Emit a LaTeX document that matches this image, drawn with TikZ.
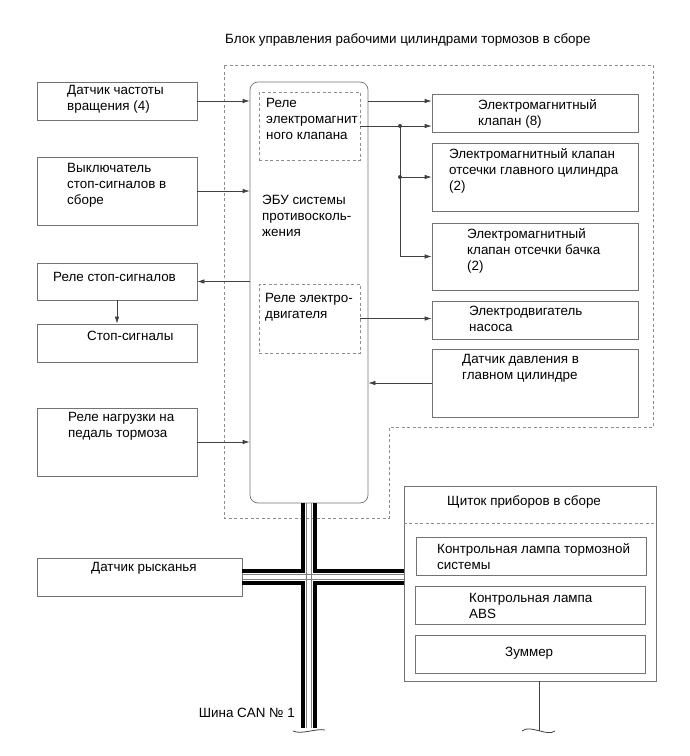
\documentclass[tikz,border=0pt]{standalone}
\usepackage{fontspec}
\setmainfont{Liberation Sans}
\usepackage{xcolor}
\usetikzlibrary{arrows.meta}
\definecolor{boxgray}{gray}{0.45}
\definecolor{linegray}{gray}{0.25}
\definecolor{dashgray}{gray}{0.55}

\begin{document}
\begin{tikzpicture}[x=1pt, y=-1pt,
  box/.style={draw=boxgray, line width=0.7pt, inner sep=0pt},
  dbox/.style={draw=dashgray, line width=0.7pt, dash pattern=on 3pt off 2.5pt, inner sep=0pt},
  lbl/.style={anchor=north west, inner sep=0pt, align=left, font=\fontsize{13.4}{16}\selectfont},
  arrow/.style={draw=linegray, line width=0.7pt, -{Latex[length=7pt,width=4.5pt]}},
  link/.style={draw=linegray, line width=0.7pt},
  busthick/.style={draw=black, line width=3.2pt, line join=miter},
  busthin/.style={draw=gray, line width=0.8pt},
  wave/.style={draw=linegray, line width=0.8pt}
]
\useasboundingbox (0,0) rectangle (690,756);

% block outline and title
\draw[dbox] (224,65) -- (653,65) -- (653,427) -- (389,427) -- (389,518) -- (224,518) -- cycle;
\node[lbl] (title) at (225,33) {Блок управления рабочими цилиндрами тормозов в сборе};

% left column
\node[box, minimum width=160pt, minimum height=38pt] (speed) at (117,101) {};
\node[lbl] (speedtxt) at (67,85) {Датчик частоты\\вращения (4)};
\node[box, minimum width=160pt, minimum height=68pt] (stopsw) at (117,191) {};
\node[lbl] (stopswtxt) at (67,163) {Выключатель\\стоп-сигналов в\\сборе};
\node[box, minimum width=160pt, minimum height=37pt] (stoprelay) at (117,281.5) {};
\node[lbl] (stoprelaytxt) at (53,272) {Реле стоп-сигналов};
\node[box, minimum width=160pt, minimum height=38pt] (stoplamp) at (117,343) {};
\node[lbl] (stoplamptxt) at (87,331) {Стоп-сигналы};
\node[box, minimum width=160pt, minimum height=68pt] (pedal) at (117,442) {};
\node[lbl] (pedaltxt) at (68,412) {Реле нагрузки на\\педаль тормоза};
\node[box, minimum width=205pt, minimum height=38pt] (yaw) at (139.5,577) {};
\node[lbl] (yawtxt) at (91,562) {Датчик рысканья};

% ECU
\node[box, rounded corners=8pt, minimum width=118pt, minimum height=421pt] (ecu) at (309,292.5) {};
\node[lbl] (ecutxt) at (262,195) {ЭБУ системы\\противосколь-\\жения};
\node[dbox, minimum width=101pt, minimum height=68pt] (solrelay) at (309.5,126) {};
\node[lbl] (solrelaytxt) at (266,98) {Реле\\электромагнит\\ного клапана};
\node[dbox, minimum width=101pt, minimum height=69pt] (motrelay) at (309.5,318.5) {};
\node[lbl] (motrelaytxt) at (265,293) {Реле электро-\\двигателя};

% right column
\node[box, minimum width=206pt, minimum height=38pt] (valve) at (535,113) {};
\node[lbl] (valvetxt) at (478,99) {Электромагнитный\\клапан (8)};
\node[box, minimum width=206pt, minimum height=68pt] (mcvalve) at (535,177) {};
\node[lbl] (mcvalvetxt) at (449,148) {Электромагнитный клапан\\отсечки главного цилиндра\\(2)};
\node[box, minimum width=206pt, minimum height=67pt] (resvalve) at (535,256.5) {};
\node[lbl] (resvalvetxt) at (467,228) {Электромагнитный\\клапан отсечки бачка\\(2)};
\node[box, minimum width=206pt, minimum height=38pt] (pump) at (535,320) {};
\node[lbl] (pumptxt) at (469,306) {Электродвигатель\\насоса};
\node[box, minimum width=206pt, minimum height=68pt] (psensor) at (535,383) {};
\node[lbl] (psensortxt) at (462,354) {Датчик давления в\\главном цилиндре};

% instrument cluster
\node[box, minimum width=252pt, minimum height=195pt] (cluster) at (530,583.5) {};
\node[lbl] (clustertxt) at (447,495) {Щиток приборов в сборе};
\draw[dbox] (cluster.west |- 0,523) -- (cluster.east |- 0,523);
\node[box, minimum width=230pt, minimum height=38pt] (warnbrake) at (531,556) {};
\node[lbl] (warnbraketxt) at (437,543) {Контрольная лампа тормозной\\системы};
\node[box, minimum width=230pt, minimum height=38pt] (warnabs) at (530,605) {};
\node[lbl] (warnabstxt) at (469,593) {Контрольная лампа\\ABS};
\node[box, minimum width=230pt, minimum height=38pt] (buzzer) at (530,654) {};
\node[lbl] (buzzertxt) at (505,647) {Зуммер};

% signal lines
\draw[arrow] (speed) -- (speed -| ecu.west);
\draw[arrow] (stopsw) -- (stopsw -| ecu.west);
\draw[arrow] (stoprelay -| ecu.west) -- (stoprelay);
\draw[arrow] (stoprelay) -- (stoplamp);
\draw[arrow] (pedal) -- (pedal -| ecu.west);
\draw[arrow] (speed -| ecu.east) -- (speed -| valve.west);
\draw[arrow] (solrelay.east) -- (solrelay.east -| valve.west);
\coordinate (branch) at (400,126);
\draw[link] (branch) -- (branch |- resvalve);
\draw[arrow] (branch |- mcvalve) -- (mcvalve);
\draw[arrow] (branch |- resvalve) -- (resvalve);
\fill[linegray] (branch) circle (2pt) (branch |- mcvalve) circle (2pt);
\draw[arrow] (motrelay.east) -- (motrelay.east -| pump.west);
\draw[arrow] (psensor) -- (psensor -| ecu.east);

% CAN bus
\coordinate (cross) at (309,577);
\coordinate (cw) at (cluster.west |- cross);
\coordinate (busend) at (309,728);
\draw[busthick] ([xshift=-6pt]ecu.south) |- ([yshift=6pt]yaw.east);
\draw[busthick] ([yshift=-6pt]yaw.east) -| ([xshift=-6pt]busend);
\draw[busthick] ([xshift=6pt]ecu.south) |- ([yshift=6pt]cw);
\draw[busthick] ([yshift=-6pt]cw) -| ([xshift=6pt]busend);
\draw[busthin] ([xshift=-2.5pt]ecu.south) -- ([xshift=-2.5pt]busend);
\draw[busthin] ([xshift=2.5pt]ecu.south) -- ([xshift=2.5pt]busend);
\draw[busthin] ([yshift=2.5pt]yaw.east) -- ([yshift=2.5pt]cw);
\draw[busthin] ([yshift=-2.5pt]yaw.east) -- ([yshift=-2.5pt]cw);
\draw[wave] ([shift={(-16pt,-3pt)}]busend) .. controls +(8,4) and +(-8,-2) .. ([shift={(16pt,-2pt)}]busend);
\node[lbl, anchor=north east] (cantxt) at (295,708) {Шина CAN № 1};

% cluster lead
\coordinate (cend) at (539,731);
\draw[link] (cluster.south -| cend) -- (cend);
\draw[wave] ([xshift=-17pt]cend) .. controls +(8,-7) and +(-8,6) .. ([xshift=16pt]cend);
\end{tikzpicture}
\end{document}
